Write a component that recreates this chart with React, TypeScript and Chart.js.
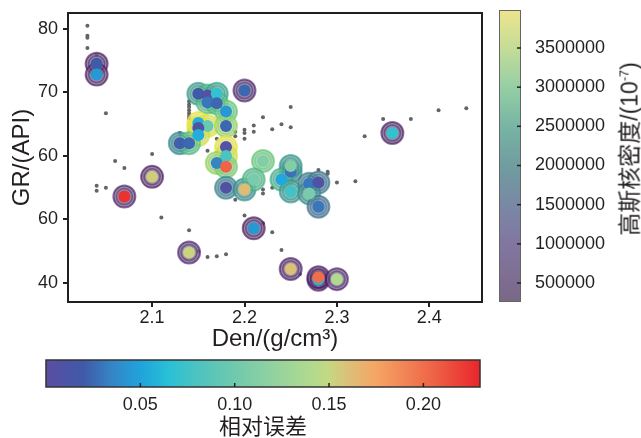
import React, { useEffect, useRef } from "react";
import { Chart, registerables } from "chart.js";
Chart.register(...registerables);

// ---------- data ----------
const GRAY_DEN = [2.03, 2.03, 2.03, 2.03, 2.04, 2.05, 2.06, 2.07, 2.04, 2.04, 2.05, 2.10, 2.11, 2.14, 2.15, 2.16, 2.17, 2.18,
  2.14, 2.14, 2.14, 2.14, 2.14, 2.14, 2.14,
  2.13, 2.16, 2.17, 2.19, 2.19, 2.20, 2.20, 2.20, 2.21, 2.21, 2.22, 2.23, 2.24, 2.25, 2.25, 2.33, 2.35, 2.38, 2.41, 2.44,
  2.19, 2.20, 2.22, 2.22, 2.22, 2.23, 2.23, 2.24, 2.26, 2.28, 2.29, 2.29, 2.30, 2.32];
const GRAY_GR = [80.5, 78.9, 78.6, 77.0, 75.9, 66.7, 59.2, 58.1, 55.3, 54.5, 55.0, 60.3, 50.3, 48.3, 45.0, 44.1, 44.2, 44.5,
  68.6, 68.1, 67.7, 67.2, 66.7, 66.3, 65.9,
  63.6, 60.8, 62.7, 63.8, 63.1, 64.1, 63.6, 62.7, 64.8, 63.8, 66.1, 64.2, 65.0, 67.7, 64.5, 63.1, 65.8, 65.8, 67.2, 67.5,
  53.1, 50.6, 54.7, 54.1, 49.4, 55.0, 48.0, 45.2, 41.4, 57.8, 57.5, 57.2, 55.8, 56.0];

const PT_DEN = [2.04, 2.04, 2.07, 2.10, 2.14, 2.15, 2.16, 2.17, 2.16, 2.17, 2.18, 2.15, 2.16, 2.15, 2.15, 2.18, 2.13, 2.14,
  2.18, 2.18, 2.17, 2.18, 2.22, 2.18, 2.20, 2.21, 2.25, 2.25, 2.24, 2.25, 2.27, 2.28, 2.27, 2.28, 2.20, 2.21, 2.25, 2.28,
  2.28, 2.30, 2.36];
const PT_GR = [74.5, 72.8, 53.6, 56.7, 44.8, 69.8, 69.5, 69.8, 68.4, 68.3, 67.0, 65.2, 64.7, 64.4, 63.3, 64.7, 62.0, 62.0,
  61.4, 60.0, 58.9, 58.3, 59.2, 55.0, 54.7, 56.3, 57.5, 58.4, 56.3, 54.4, 55.6, 55.8, 54.1, 52.0, 70.3, 48.6, 42.2, 40.5,
  40.9, 40.6, 63.6];
const PT_DENSITY = [400000, 400000, 450000, 400000, 480000, 2300000, 2700000, 2400000, 2800000, 2800000, 3000000, 3900000,
  3800000, 3850000, 3700000, 3300000, 2000000, 2800000, 3850000, 3700000, 3300000, 3100000, 3000000, 1900000, 2100000,
  2700000, 2000000, 2200000, 2600000, 2200000, 1800000, 1700000, 2100000, 1600000, 500000, 330000, 420000, 350000,
  350000, 500000, 380000];
const PT_ERROR = [0.02, 0.045, 0.225, 0.155, 0.152, 0.02, 0.005, 0.07, 0.03, 0.025, 0.045, 0.055, 0.095, 0.008, 0.055,
  0.025, 0.022, 0.025, 0.006, 0.08, 0.035, 0.205, 0.11, 0.008, 0.162, 0.105, 0.028, 0.11, 0.052, 0.075, 0.03, 0.01,
  0.105, 0.03, 0.025, 0.045, 0.16, 0.06, 0.2, 0.14, 0.07];

const X_TICKS = [2.1, 2.2, 2.3, 2.4];
const X_TICK_LABELS = ["2.1", "2.2", "2.3", "2.4"];
const Y_TICKS = [40, 50, 60, 70, 80];
const Y_TICK_LABELS = ["40", "60", "60", "70", "80"];
const DENSITY_TICKS = [500000, 1000000, 1500000, 2000000, 2500000, 3000000, 3500000];
const ERROR_TICKS = [0.05, 0.1, 0.15, 0.2];
const ERROR_TICK_LABELS = ["0.05", "0.10", "0.15", "0.20"];

// ---------- style ----------
const FONT = "'Liberation Sans', Arial, 'Noto Sans CJK SC', sans-serif";
const TEXT = "#231f20";
const DENS_MIN = 258000;
const DENS_MAX = 3985000;
const ERR_MIN = 0;
const ERR_MAX = 0.23;

const VIRIDIS = ["#440154", "#482475", "#414487", "#355f8d", "#2a788e", "#21918c", "#22a884", "#44bf70", "#7ad151", "#bddf26", "#fde725"];
const PALE: [number, string][] = [
  [0, "#7a6786"], [0.2, "#8276a0"], [0.33, "#7a88a5"], [0.46, "#6f9ba0"], [0.6, "#78b4a4"], [0.73, "#93cea5"],
  [0.87, "#c5dc97"], [1, "#ede58d"],
];
const ERR_STOPS: [number, string][] = [
  [0.0, "#5b4ea2"], [0.02, "#3f5aa8"], [0.035, "#3585c5"], [0.05, "#1fa3dc"], [0.065, "#29c0d6"], [0.08, "#4dc3c0"],
  [0.10, "#70c9ae"], [0.12, "#91d2a0"], [0.14, "#b0da8e"], [0.15, "#c4d882"], [0.16, "#dcc078"], [0.175, "#f5a563"],
  [0.19, "#f18556"], [0.205, "#ee6446"], [0.23, "#e9252b"],
];

function hex(h: string): number[] {
  return [parseInt(h.slice(1, 3), 16), parseInt(h.slice(3, 5), 16), parseInt(h.slice(5, 7), 16)];
}
function mix(a: string, b: string, t: number): number[] {
  const A = hex(a), B = hex(b);
  return A.map((v, i) => Math.round(v + (B[i] - v) * t));
}
function viridis(t: number): number[] {
  const c = Math.max(0, Math.min(1, t)) * (VIRIDIS.length - 1);
  const i = Math.min(VIRIDIS.length - 2, Math.floor(c));
  return mix(VIRIDIS[i], VIRIDIS[i + 1], c - i);
}
function stopsRGB(stops: [number, string][], x: number): number[] {
  for (let i = 0; i < stops.length - 1; i++) {
    const [a, ca] = stops[i];
    const [b, cb] = stops[i + 1];
    if (x <= b) return mix(ca, cb, Math.max(0, (x - a) / (b - a)));
  }
  return hex(stops[stops.length - 1][1]);
}
const pale = (t: number) => stopsRGB(PALE, Math.max(0, Math.min(1, t)));
const errRGB = (v: number) => stopsRGB(ERR_STOPS, Math.max(ERR_MIN, Math.min(ERR_MAX, v)));
const rgba = (c: number[], a: number) => `rgba(${c[0]},${c[1]},${c[2]},${a})`;
const densNorm = (d: number) => (d - DENS_MIN) / (DENS_MAX - DENS_MIN);

const noPad = (s: any) => {
  s.paddingTop = 0;
  s.paddingBottom = 0;
  s.paddingLeft = 0;
  s.paddingRight = 0;
};

const framePlugin = {
  id: "frame",
  afterDatasetsDraw(chart: any) {
    const { ctx, chartArea: a } = chart;
    ctx.save();
    ctx.strokeStyle = TEXT;
    ctx.lineWidth = 2;
    ctx.strokeRect(a.left, a.top, a.right - a.left, a.bottom - a.top);
    ctx.restore();
  },
};

const densBarPlugin = {
  id: "densBar",
  beforeDatasetsDraw(chart: any) {
    const { ctx, chartArea: a } = chart;
    const sc = chart.scales.y;
    const g = ctx.createLinearGradient(0, a.bottom, 0, a.top);
    for (let i = 0; i <= 40; i++) g.addColorStop(i / 40, rgba(pale(i / 40), 1));
    ctx.save();
    ctx.fillStyle = g;
    ctx.fillRect(a.left, a.top, a.right - a.left, a.bottom - a.top);
    ctx.strokeStyle = "#666";
    ctx.lineWidth = 1;
    ctx.strokeRect(a.left + 0.5, a.top + 0.5, a.right - a.left - 1, a.bottom - a.top - 1);
    ctx.strokeStyle = TEXT;
    ctx.lineWidth = 1.5;
    DENSITY_TICKS.forEach((v) => {
      const y = sc.getPixelForValue(v);
      ctx.beginPath();
      ctx.moveTo(a.right - 4, y);
      ctx.lineTo(a.right, y);
      ctx.stroke();
    });
    ctx.restore();
  },
};

const errBarPlugin = {
  id: "errBar",
  beforeDatasetsDraw(chart: any) {
    const { ctx, chartArea: a } = chart;
    const sc = chart.scales.x;
    const g = ctx.createLinearGradient(a.left, 0, a.right, 0);
    ERR_STOPS.forEach(([v, c]) => g.addColorStop((v - ERR_MIN) / (ERR_MAX - ERR_MIN), c));
    ctx.save();
    ctx.fillStyle = g;
    ctx.fillRect(a.left, a.top, a.right - a.left, a.bottom - a.top);
    ctx.strokeStyle = "#333";
    ctx.lineWidth = 1.5;
    ctx.strokeRect(a.left, a.top, a.right - a.left, a.bottom - a.top);
    ctx.strokeStyle = TEXT;
    ctx.lineWidth = 1.5;
    ERROR_TICKS.forEach((v) => {
      const x = sc.getPixelForValue(v);
      ctx.beginPath();
      ctx.moveTo(x, a.bottom - 4);
      ctx.lineTo(x, a.bottom);
      ctx.stroke();
    });
    ctx.restore();
  },
};

export default function App() {
  const mainRef = useRef<HTMLCanvasElement>(null);
  const cbRef = useRef<HTMLCanvasElement>(null);
  const ebRef = useRef<HTMLCanvasElement>(null);

  useEffect(() => {
    Chart.defaults.font.family = FONT;
    Chart.defaults.color = TEXT;
    const pts = PT_DEN.map((x, i) => ({ x, y: PT_GR[i] }));
    const dNorm = PT_DENSITY.map((d) => densNorm(d));

    const main = new Chart(mainRef.current as HTMLCanvasElement, {
      type: "scatter",
      data: {
        datasets: [
          {
            label: "samples",
            data: GRAY_DEN.map((x, i) => ({ x, y: GRAY_GR[i] })),
            pointRadius: 2,
            pointBackgroundColor: "#636466",
            pointBorderWidth: 0,
            order: 4,
          },
          {
            label: "density",
            data: pts,
            pointRadius: 11,
            pointBackgroundColor: dNorm.map((t) => rgba(pale(t), 0.8)),
            pointBorderColor: dNorm.map((t) => rgba(viridis(t), 0.6)),
            pointBorderWidth: 2,
            order: 3,
          },
          {
            label: "ring",
            data: pts,
            pointRadius: 8,
            pointBackgroundColor: "rgba(0,0,0,0)",
            pointBorderColor: dNorm.map((t) => rgba(viridis(t), 0.45)),
            pointBorderWidth: 1.5,
            order: 2,
          },
          {
            label: "error",
            data: pts,
            pointRadius: 6,
            pointBackgroundColor: PT_ERROR.map((e) => rgba(errRGB(e), 1)),
            pointBorderWidth: 0,
            order: 1,
          },
        ],
      },
      options: {
        responsive: false,
        animation: false,
        devicePixelRatio: 1,
        events: [],
        layout: { padding: { left: 0, top: 11, right: 159, bottom: 84 } },
        plugins: { legend: { display: false }, tooltip: { enabled: false } },
        scales: {
          x: {
            type: "linear",
            min: 2.009,
            max: 2.457,
            afterBuildTicks: (s: any) => { s.ticks = X_TICKS.map((v) => ({ value: v })); },
            afterFit: (s: any) => { s.height = 52; noPad(s); },
            grid: { display: true, drawOnChartArea: false, drawTicks: true, tickLength: 5, color: TEXT, lineWidth: 2 },
            border: { display: false },
            ticks: { font: { size: 18 }, color: TEXT, padding: 0, maxRotation: 0, autoSkip: false,
              callback: (_v: any, i: number) => X_TICK_LABELS[i] },
            title: { display: true, text: "Den/(g/cm³)", font: { size: 24 }, color: TEXT, padding: 0 },
          },
          y: {
            type: "linear",
            min: 37,
            max: 82.5,
            afterBuildTicks: (s: any) => { s.ticks = Y_TICKS.map((v) => ({ value: v })); },
            afterFit: (s: any) => { s.width = 68; noPad(s); },
            grid: { display: true, drawOnChartArea: false, drawTicks: true, tickLength: 5, color: TEXT, lineWidth: 2 },
            border: { display: false },
            ticks: { font: { size: 18 }, color: TEXT, padding: 5, autoSkip: false,
              callback: (_v: any, i: number) => Y_TICK_LABELS[i] },
            title: { display: true, text: "GR/(API)", font: { size: 24 }, color: TEXT, padding: { top: 8, bottom: 0 } },
          },
        },
      },
      plugins: [framePlugin],
    } as any);

    const cb = new Chart(cbRef.current as HTMLCanvasElement, {
      type: "scatter",
      data: { datasets: [] },
      options: {
        responsive: false,
        animation: false,
        devicePixelRatio: 1,
        events: [],
        layout: { padding: { left: 19, top: 10, bottom: 18, right: 0 } },
        plugins: { legend: { display: false }, tooltip: { enabled: false } },
        scales: {
          x: { display: false, min: 0, max: 1 },
          y: {
            position: "right",
            min: DENS_MIN,
            max: DENS_MAX,
            afterBuildTicks: (s: any) => { s.ticks = DENSITY_TICKS.map((v) => ({ value: v })); },
            afterFit: (s: any) => { s.width = 120; noPad(s); },
            grid: { display: false, drawTicks: false },
            border: { display: false },
            ticks: { padding: 14, font: { size: 18 }, color: TEXT, callback: (v: any) => String(v) },
          },
        },
      },
      plugins: [densBarPlugin],
    } as any);

    const eb = new Chart(ebRef.current as HTMLCanvasElement, {
      type: "scatter",
      data: { datasets: [] },
      options: {
        responsive: false,
        animation: false,
        devicePixelRatio: 1,
        events: [],
        layout: { padding: { left: 46, top: 15, bottom: 0, right: 161 } },
        plugins: { legend: { display: false }, tooltip: { enabled: false } },
        scales: {
          y: { display: false, min: 0, max: 1 },
          x: {
            position: "bottom",
            min: ERR_MIN,
            max: ERR_MAX,
            afterBuildTicks: (s: any) => { s.ticks = ERROR_TICKS.map((v) => ({ value: v })); },
            afterFit: (s: any) => { s.height = 54; noPad(s); },
            grid: { display: false, drawTicks: false },
            border: { display: false },
            ticks: { padding: 7, font: { size: 18 }, color: TEXT, maxRotation: 0, autoSkip: false,
              callback: (_v: any, i: number) => ERROR_TICK_LABELS[i] },
            title: { display: true, text: "相对误差", font: { size: 22 }, color: TEXT, padding: 0 },
          },
        },
      },
      plugins: [errBarPlugin],
    } as any);

    return () => {
      main.destroy();
      cb.destroy();
      eb.destroy();
    };
  }, []);

  return (
    <div style={{ position: "fixed", left: 0, top: 0, width: 641, height: 438, overflow: "hidden", background: "#fff" }}>
      <canvas ref={mainRef} width={641} height={438} style={{ position: "absolute", left: 0, top: 0 }} />
      <canvas ref={cbRef} width={161} height={320} style={{ position: "absolute", left: 480, top: 0 }} />
      <canvas ref={ebRef} width={641} height={96} style={{ position: "absolute", left: 0, top: 345 }} />
      <div
        style={{
          position: "absolute",
          left: 630,
          top: 149,
          transform: "translate(-50%, -50%) rotate(-90deg)",
          whiteSpace: "nowrap",
          fontFamily: FONT,
          fontSize: 23,
          color: TEXT,
          lineHeight: 1,
        }}
      >
        高斯核密度/(10<sup style={{ fontSize: "0.55em", verticalAlign: "0.7em" }}>-7</sup>)
      </div>
    </div>
  );
}
